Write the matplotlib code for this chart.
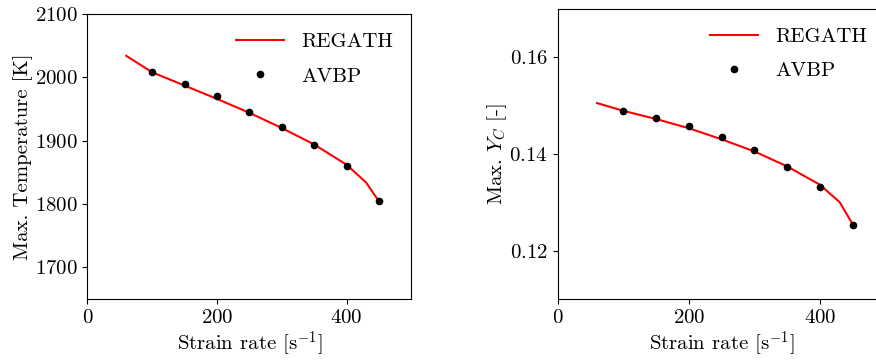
import matplotlib
matplotlib.use("Agg")
import matplotlib.pyplot as plt

plt.rcParams['font.family'] = 'serif'
plt.rcParams['font.serif'] = ['cmr10']
plt.rcParams['mathtext.fontset'] = 'cm'
plt.rcParams['axes.formatter.use_mathtext'] = True
plt.rcParams['font.size'] = 15

# REGATH (1D flame) curves
regath_sr = [60, 100, 150, 200, 250, 300, 350, 400, 430, 450]
regath_T = [2034, 2008, 1987, 1966, 1944, 1920, 1894, 1862, 1834, 1804]
regath_Yc = [0.1505, 0.1489, 0.1472, 0.1453, 0.1430, 0.1405, 0.1374, 0.1336, 0.1300, 0.1254]

# AVBP points
avbp_sr = [100, 150, 200, 250, 300, 350, 400, 450]
avbp_T = [2008, 1990, 1970, 1946, 1921, 1893, 1860, 1804]
avbp_Yc = [0.1488, 0.1474, 0.1457, 0.1434, 0.1407, 0.1373, 0.1332, 0.1253]

fig = plt.figure(figsize=(8.76, 3.6), dpi=100)
ax1 = fig.add_axes([0.0997, 0.1694, 0.370, 0.7917])
ax2 = fig.add_axes([0.6366, 0.1694, 0.3744, 0.8064])

ax1.plot(regath_sr, regath_T, color='red', lw=1.5, label='REGATH')
ax1.plot(avbp_sr, avbp_T, 'ko', ms=4.5, label='AVBP')
ax1.set_xlim(0, 500)
ax1.set_ylim(1650, 2100)
ax1.set_xticks([0, 200, 400])
ax1.set_yticks([1700, 1800, 1900, 2000, 2100])
ax1.set_xlabel(r'Strain rate [s$^{-1}$]', labelpad=2)
ax1.set_ylabel('Max. Temperature [K]', labelpad=1)
ax1.legend(frameon=False, loc='upper right', handlelength=2.3, labelspacing=0.75)

ax2.plot(regath_sr, regath_Yc, color='red', lw=1.5, label='REGATH')
ax2.plot(avbp_sr, avbp_Yc, 'ko', ms=4.5, label='AVBP')
ax2.set_xlim(0, 500)
ax2.set_ylim(0.11, 0.17)
ax2.set_xticks([0, 200, 400])
ax2.set_yticks([0.12, 0.14, 0.16])
ax2.set_xlabel(r'Strain rate [s$^{-1}$]', labelpad=2)
ax2.set_ylabel(r'Max. $Y_C$ [-]', labelpad=0)
ax2.legend(frameon=False, loc='upper right', handlelength=2.3, labelspacing=0.75)

fig.savefig('out.png', dpi=100)
